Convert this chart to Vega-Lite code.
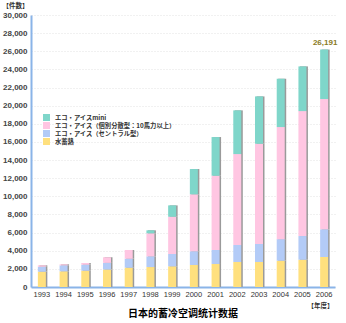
{
  "$schema": "https://vega.github.io/schema/vega-lite/v6.json",
  "autosize": "none",
  "width": 304,
  "height": 272,
  "padding": {"left": 31, "top": 15, "right": 11, "bottom": 36},
  "background": "white",
  "config": {"view": {"stroke": null}, "font": "Liberation Sans"},
  "title": {"text": "日本的蓄冷空调统计数据", "orient": "bottom", "anchor": "middle", "font": "Noto Sans CJK SC", "fontSize": 10, "fontWeight": "bold", "color": "#000", "offset": 0},
  "data": {"values": [
    {"year": "1993", "type": "水蓄熱", "value": 1690},
    {"year": "1993", "type": "エコ・アイス（セントラル型）", "value": 550},
    {"year": "1993", "type": "エコ・アイス（個別分散型：10馬力以上）", "value": 150},
    {"year": "1993", "type": "エコ・アイスmini", "value": 0},
    {"year": "1994", "type": "水蓄熱", "value": 1730},
    {"year": "1994", "type": "エコ・アイス（セントラル型）", "value": 660},
    {"year": "1994", "type": "エコ・アイス（個別分散型：10馬力以上）", "value": 110},
    {"year": "1994", "type": "エコ・アイスmini", "value": 0},
    {"year": "1995", "type": "水蓄熱", "value": 1800},
    {"year": "1995", "type": "エコ・アイス（セントラル型）", "value": 660},
    {"year": "1995", "type": "エコ・アイス（個別分散型：10馬力以上）", "value": 190},
    {"year": "1995", "type": "エコ・アイスmini", "value": 0},
    {"year": "1996", "type": "水蓄熱", "value": 1930},
    {"year": "1996", "type": "エコ・アイス（セントラル型）", "value": 730},
    {"year": "1996", "type": "エコ・アイス（個別分散型：10馬力以上）", "value": 620},
    {"year": "1996", "type": "エコ・アイスmini", "value": 0},
    {"year": "1997", "type": "水蓄熱", "value": 2130},
    {"year": "1997", "type": "エコ・アイス（セントラル型）", "value": 990},
    {"year": "1997", "type": "エコ・アイス（個別分散型：10馬力以上）", "value": 960},
    {"year": "1997", "type": "エコ・アイスmini", "value": 0},
    {"year": "1998", "type": "水蓄熱", "value": 2200},
    {"year": "1998", "type": "エコ・アイス（セントラル型）", "value": 1180},
    {"year": "1998", "type": "エコ・アイス（個別分散型：10馬力以上）", "value": 2540},
    {"year": "1998", "type": "エコ・アイスmini", "value": 330},
    {"year": "1999", "type": "水蓄熱", "value": 2280},
    {"year": "1999", "type": "エコ・アイス（セントラル型）", "value": 1360},
    {"year": "1999", "type": "エコ・アイス（個別分散型：10馬力以上）", "value": 4110},
    {"year": "1999", "type": "エコ・アイスmini", "value": 1250},
    {"year": "2000", "type": "水蓄熱", "value": 2430},
    {"year": "2000", "type": "エコ・アイス（セントラル型）", "value": 1510},
    {"year": "2000", "type": "エコ・アイス（個別分散型：10馬力以上）", "value": 6280},
    {"year": "2000", "type": "エコ・アイスmini", "value": 2790},
    {"year": "2001", "type": "水蓄熱", "value": 2540},
    {"year": "2001", "type": "エコ・アイス（セントラル型）", "value": 1540},
    {"year": "2001", "type": "エコ・アイス（個別分散型：10馬力以上）", "value": 8190},
    {"year": "2001", "type": "エコ・アイスmini", "value": 4270},
    {"year": "2002", "type": "水蓄熱", "value": 2760},
    {"year": "2002", "type": "エコ・アイス（セントラル型）", "value": 1870},
    {"year": "2002", "type": "エコ・アイス（個別分散型：10馬力以上）", "value": 10030},
    {"year": "2002", "type": "エコ・アイスmini", "value": 4820},
    {"year": "2003", "type": "水蓄熱", "value": 2760},
    {"year": "2003", "type": "エコ・アイス（セントラル型）", "value": 1980},
    {"year": "2003", "type": "エコ・アイス（個別分散型：10馬力以上）", "value": 11060},
    {"year": "2003", "type": "エコ・アイスmini", "value": 5220},
    {"year": "2004", "type": "水蓄熱", "value": 2900},
    {"year": "2004", "type": "エコ・アイス（セントラル型）", "value": 2380},
    {"year": "2004", "type": "エコ・アイス（個別分散型：10馬力以上）", "value": 12360},
    {"year": "2004", "type": "エコ・アイスmini", "value": 5330},
    {"year": "2005", "type": "水蓄熱", "value": 3010},
    {"year": "2005", "type": "エコ・アイス（セントラル型）", "value": 2610},
    {"year": "2005", "type": "エコ・アイス（個別分散型：10馬力以上）", "value": 13780},
    {"year": "2005", "type": "エコ・アイスmini", "value": 4930},
    {"year": "2006", "type": "水蓄熱", "value": 3310},
    {"year": "2006", "type": "エコ・アイス（セントラル型）", "value": 3050},
    {"year": "2006", "type": "エコ・アイス（個別分散型：10馬力以上）", "value": 14370},
    {"year": "2006", "type": "エコ・アイスmini", "value": 5461}
  ]},
  "transform": [
    {"calculate": "indexof(['水蓄熱', 'エコ・アイス（セントラル型）', 'エコ・アイス（個別分散型：10馬力以上）', 'エコ・アイスmini'], datum.type)", "as": "stackOrder"}
  ],
  "encoding": {
    "x": {"field": "year", "type": "ordinal", "scale": {"paddingInner": 0.6, "paddingOuter": 0.3},
      "axis": {"title": "【年度】", "titleFontSize": 6.5, "titleFontWeight": "bold", "titleFont": "Noto Sans CJK JP", "titleColor": "#333", "titleX": 302, "titleY": 15, "titleAlign": "right", "titleBaseline": "top", "labelAngle": 0, "labelFontSize": 7.5, "labelColor": "#333", "labelPadding": 3, "ticks": false, "domainColor": "#8ab4e8", "domainWidth": 2, "grid": false}},
    "y": {"field": "value", "type": "quantitative", "aggregate": "sum", "stack": "zero", "scale": {"domain": [0, 30000]},
      "axis": {"title": "【件数】", "titleAngle": 0, "titleX": -29, "titleY": -10, "titleAlign": "left", "titleBaseline": "middle", "titleFontSize": 6.5, "titleFontWeight": "bold", "titleFont": "Noto Sans CJK JP", "titleColor": "#333", "values": [0,2000,4000,6000,8000,10000,12000,14000,16000,18000,20000,22000,24000,26000,28000,30000], "format": ",d", "labelFontSize": 8, "labelFontWeight": "bold", "labelColor": "#444", "labelPadding": 4, "ticks": false, "domainColor": "#8ab4e8", "domainWidth": 2, "gridColor": "#e2e2e2", "gridDash": [1, 2], "gridWidth": 1}},
    "order": {"field": "stackOrder", "type": "quantitative", "sort": "ascending"}
  },
  "layer": [
    {
      "mark": {"type": "bar", "size": 8, "xOffset": 1.5, "color": "#9a9a9a"},
      "encoding": {"detail": {"field": "type"}}
    },
    {
      "mark": {"type": "bar", "size": 8},
      "encoding": {
        "color": {"field": "type", "type": "nominal",
          "scale": {"domain": ["エコ・アイスmini", "エコ・アイス（個別分散型：10馬力以上）", "エコ・アイス（セントラル型）", "水蓄熱"], "range": ["#7fd6ca", "#ffc6e2", "#b3cbf7", "#ffe07e"]},
          "legend": {"title": null, "orient": "none", "legendX": 12, "legendY": 99, "symbolType": "square", "symbolSize": 49, "symbolStrokeWidth": 0, "labelFontSize": 6.3, "labelFont": "Noto Sans CJK JP", "labelFontWeight": "bold", "labelColor": "#333", "rowPadding": 1, "labelOffset": 5}}
      }
    },
    {
      "transform": [{"filter": "datum.year == '2006'"}],
      "mark": {"type": "text", "dy": -7, "xOffset": 1, "fontSize": 8, "fontWeight": "bold", "color": "#8a7a1e"},
      "encoding": {"text": {"aggregate": "sum", "field": "value", "format": ","}, "order": null}
    }
  ]
}
